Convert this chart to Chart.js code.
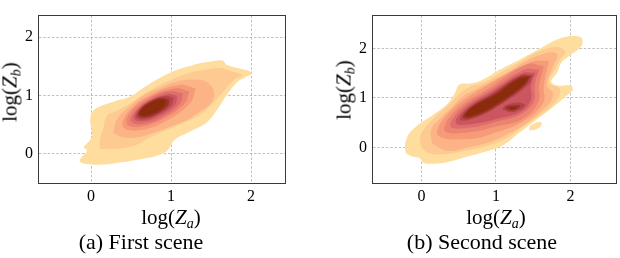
<!DOCTYPE html>
<html>
<head>
<meta charset="utf-8">
<script src="https://cdn.jsdelivr.net/npm/chart.js@4.4.1/dist/chart.umd.min.js"></script>
<style>
  body { margin: 0; background: #fff; }
  #wrap { position: relative; width: 620px; height: 258px; overflow: hidden; font-family: "Liberation Serif", "Times New Roman", "DejaVu Serif", serif; color: #000; }
  canvas { position: absolute; top: 0; }
  .lbl { position: absolute; font-size: 21px; white-space: nowrap; transform: translate(-50%, -50%); line-height: 1; }
  .lbl sub { font-size: 14px; line-height: 0; vertical-align: -4px; font-style: italic; }
  .rot { transform: translate(-50%, -50%) rotate(-90deg); }
  .cap { position: absolute; font-size: 22px; white-space: nowrap; transform: translate(-50%, -50%); line-height: 1; }
</style>
</head>
<body>
<div id="wrap">
  <canvas id="chartA" width="300" height="205" style="left:0"></canvas>
  <canvas id="chartB" width="290" height="205" style="left:330px"></canvas>

  <div class="lbl" style="left:171px; top:217px">log(<i>Z</i><sub>a</sub>)</div>
  <div class="lbl rot" style="left:10px; top:92px">log(<i>Z</i><sub>b</sub>)</div>
  <div class="cap" style="left:141px; top:242px">(a) First scene</div>

  <div class="lbl" style="left:496px; top:217px">log(<i>Z</i><sub>a</sub>)</div>
  <div class="lbl rot" style="left:344px; top:90px">log(<i>Z</i><sub>b</sub>)</div>
  <div class="cap" style="left:482px; top:242px">(b) Second scene</div>
</div>

<script>
const serif = '"Liberation Serif", "Times New Roman", "DejaVu Serif", serif';

// contour fill colours, lightest (outer) level first
const levelColors = ["#fedd9f", "#fdca91", "#fcb385", "#f69a78", "#ec8472",
                     "#de6e6c", "#cb5660", "#b4434a", "#9c3426", "#8a2c0c"];
const tickVals = [0, 1, 2];

// (a) First scene: one closed outline per density level, [log Za, log Zb]
const sceneA = [
  [[-0.14,-0.14],[-0.10,-0.17],[0.08,-0.19],[0.33,-0.16],[0.65,-0.09],[0.86,-0.02],[0.96,0.06],[1.05,0.24],[1.24,0.38],[1.45,0.54],[1.58,0.76],[1.70,1.01],[1.83,1.23],[1.93,1.31],[2.01,1.37],[1.99,1.41],[1.83,1.47],[1.70,1.52],[1.64,1.60],[1.49,1.58],[1.28,1.52],[0.99,1.39],[0.70,1.17],[0.49,0.98],[0.30,0.90],[0.11,0.81],[0.03,0.74],[-0.01,0.60],[0.01,0.30],[-0.06,0.16],[-0.09,0.11],[-0.05,0.05],[-0.11,-0.05],[-0.14,-0.11]],
  [[0.11,0.08],[0.26,0.08],[0.46,0.11],[0.59,0.16],[0.74,0.28],[0.95,0.41],[1.18,0.54],[1.36,0.66],[1.51,0.85],[1.64,1.04],[1.80,1.28],[1.90,1.34],[1.76,1.41],[1.61,1.47],[1.43,1.44],[1.24,1.39],[0.99,1.26],[0.74,1.09],[0.51,0.88],[0.33,0.74],[0.20,0.65],[0.15,0.41],[0.11,0.22]],
  [[0.28,0.36],[0.40,0.28],[0.58,0.28],[0.78,0.36],[0.99,0.46],[1.20,0.58],[1.36,0.72],[1.49,0.85],[1.54,1.04],[1.46,1.22],[1.33,1.27],[1.11,1.25],[0.90,1.15],[0.70,1.03],[0.49,0.82],[0.33,0.60]],
  [[1.31,1.12],[1.24,0.87],[0.95,0.57],[0.60,0.40],[0.40,0.46],[0.46,0.71],[0.75,1.01],[1.10,1.18]],
  [[1.23,1.07],[1.17,0.86],[0.92,0.61],[0.62,0.46],[0.45,0.51],[0.50,0.72],[0.75,0.98],[1.05,1.12]],
  [[1.15,1.03],[1.11,0.85],[0.90,0.63],[0.65,0.51],[0.50,0.55],[0.55,0.73],[0.75,0.95],[1.00,1.07]],
  [[1.08,0.99],[1.05,0.84],[0.87,0.66],[0.67,0.56],[0.54,0.59],[0.58,0.75],[0.75,0.92],[0.96,1.02]],
  [[1.03,0.96],[1.00,0.83],[0.85,0.68],[0.68,0.59],[0.57,0.62],[0.60,0.75],[0.75,0.91],[0.92,0.99]],
  [[0.98,0.93],[0.96,0.82],[0.83,0.69],[0.68,0.62],[0.59,0.65],[0.62,0.76],[0.74,0.89],[0.89,0.96]],
  [[0.94,0.91],[0.92,0.82],[0.81,0.71],[0.69,0.65],[0.61,0.67],[0.63,0.76],[0.74,0.87],[0.86,0.93]]
];

// (b) Second scene
const sceneB = [
  [[-0.22,0.08],[-0.21,-0.10],[-0.13,-0.18],[-0.02,-0.22],[0.02,-0.31],[0.14,-0.33],[0.31,-0.31],[0.54,-0.22],[0.85,-0.09],[1.09,0.04],[1.29,0.27],[1.48,0.49],[1.66,0.69],[1.82,0.88],[1.95,1.05],[2.03,1.16],[2.00,1.25],[1.82,1.25],[1.74,1.33],[1.82,1.51],[1.88,1.72],[1.99,1.86],[2.10,1.98],[2.16,2.09],[2.14,2.22],[2.00,2.25],[1.82,2.18],[1.63,2.03],[1.36,1.81],[1.05,1.57],[0.81,1.36],[0.65,1.29],[0.51,1.27],[0.45,1.10],[0.35,0.88],[0.14,0.64],[-0.05,0.45],[-0.17,0.27]],
  [[0.00,-0.01],[0.11,-0.12],[0.31,-0.14],[0.58,-0.07],[0.85,0.02],[1.12,0.17],[1.33,0.38],[1.56,0.62],[1.76,0.86],[1.85,1.05],[1.85,1.20],[1.74,1.27],[1.71,1.36],[1.78,1.55],[1.86,1.78],[1.93,1.93],[1.83,2.03],[1.59,1.95],[1.32,1.72],[1.05,1.50],[0.85,1.32],[0.65,1.22],[0.50,1.07],[0.36,0.85],[0.18,0.61],[0.03,0.36],[-0.02,0.17]],
  [[0.14,0.08],[0.35,-0.07],[0.65,0.01],[0.94,0.12],[1.18,0.29],[1.40,0.48],[1.60,0.72],[1.74,0.95],[1.76,1.12],[1.70,1.20],[1.68,1.30],[1.74,1.55],[1.80,1.75],[1.82,1.88],[1.72,1.92],[1.45,1.78],[1.20,1.55],[0.95,1.35],[0.75,1.19],[0.55,1.02],[0.40,0.80],[0.25,0.58],[0.13,0.36]],
  [[1.71,1.75],[1.64,1.22],[1.64,0.92],[1.40,0.56],[1.00,0.30],[0.63,0.17],[0.22,0.25],[0.38,0.72],[0.90,1.27],[1.47,1.72]],
  [[1.64,1.64],[1.58,1.25],[1.57,0.93],[1.36,0.58],[1.00,0.42],[0.62,0.30],[0.31,0.34],[0.46,0.75],[0.93,1.22],[1.42,1.68]],
  [[1.58,1.57],[1.52,1.27],[1.51,0.94],[1.32,0.66],[1.00,0.52],[0.66,0.40],[0.39,0.42],[0.53,0.77],[0.94,1.17],[1.39,1.58]],
  [[1.53,1.51],[1.47,1.26],[1.47,0.97],[1.33,0.72],[1.02,0.58],[0.70,0.48],[0.46,0.49],[0.59,0.79],[0.95,1.13],[1.35,1.50]],
  [[1.50,1.47],[1.43,1.26],[1.10,0.90],[0.73,0.60],[0.52,0.56],[0.63,0.80],[0.96,1.10],[1.33,1.46]],
  [[1.47,1.45],[1.39,1.26],[1.09,0.92],[0.75,0.64],[0.56,0.60],[0.66,0.81],[0.97,1.08],[1.31,1.42]],
  [[1.44,1.42],[1.36,1.25],[1.08,0.95],[0.76,0.68],[0.59,0.63],[0.69,0.82],[0.99,1.06],[1.30,1.38]]
];
// separate blobs in (b): [level, outline]
const sceneBIslands = [
  [0, [[1.45,0.34],[1.53,0.36],[1.61,0.45],[1.60,0.51],[1.52,0.49],[1.45,0.42]]],
  [7, [[1.08,0.77],[1.20,0.71],[1.33,0.77],[1.39,0.86],[1.29,0.91],[1.13,0.85]]],
  [8, [[1.12,0.79],[1.21,0.74],[1.31,0.80],[1.32,0.85],[1.23,0.85],[1.15,0.83]]],
  [9, [[1.16,0.78],[1.24,0.77],[1.28,0.81],[1.20,0.81]]]
];

const frame = {
  id: "frame",
  afterDraw(chart) {
    const { ctx, chartArea: a } = chart;
    ctx.save();
    ctx.strokeStyle = "#3a3a3a";
    ctx.lineWidth = 1;
    ctx.strokeRect(Math.round(a.left) - 0.5, Math.round(a.top) - 0.5,
                   Math.round(a.right - a.left) + 1, Math.round(a.bottom - a.top) + 1);
    ctx.restore();
  }
};

function shape(pts, lvl) {
  const data = pts.concat([pts[0]]).map(([x, y]) => ({ x, y }));
  return {
    data,
    showLine: true,
    fill: "shape",
    backgroundColor: levelColors[lvl],
    borderColor: levelColors[lvl],
    borderWidth: 0,
    pointRadius: 0,
    tension: 0.4,
    order: 10 - lvl
  };
}

function axis(min, max, isY, width) {
  return {
    type: "linear",
    min, max,
    z: 1,
    afterBuildTicks: s => { s.ticks = tickVals.map(v => ({ value: v })); },
    afterFit: s => { if (isY) s.width = width; else s.height = 22; },
    grid: { color: "#b0b0b0", lineWidth: 0.8, drawTicks: false },
    border: { display: false, dash: [2.5, 1.8] },
    ticks: {
      color: "#000",
      font: { family: serif, size: 16 },
      padding: isY ? 6 : 4
    }
  };
}

function makeChart(id, levels, islands, xr, yr, yWidth, padRight) {
  const datasets = levels.map((pts, i) => shape(pts, i));
  islands.forEach(([lvl, pts]) => datasets.push(shape(pts, lvl)));
  return new Chart(document.getElementById(id), {
    type: "scatter",
    data: { datasets },
    options: {
      responsive: false,
      animation: false,
      events: [],
      layout: { padding: { top: 1, right: padRight, left: 0, bottom: 0 } },
      plugins: { legend: { display: false }, tooltip: { enabled: false } },
      scales: {
        x: axis(xr[0], xr[1], false),
        y: axis(yr[0], yr[1], true, yWidth)
      }
    },
    plugins: [frame]
  });
}

makeChart("chartA", sceneA, [], [-0.65, 2.425], [-0.505, 2.37], 39, 15);
makeChart("chartB", sceneB, sceneBIslands, [-0.65, 2.61], [-0.72, 2.665], 43, 4);
</script>
</body>
</html>
